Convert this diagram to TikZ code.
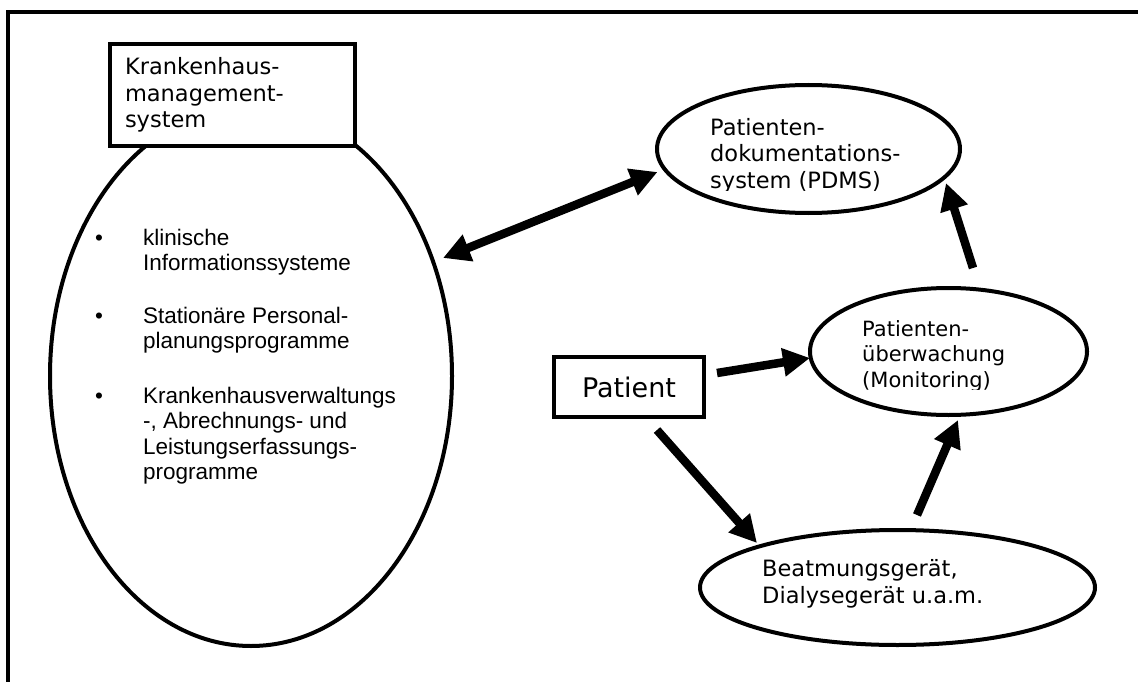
\documentclass[tikz,border=0pt]{standalone}
\usepackage{fontspec}
\setmainfont{DejaVu Sans}
\newfontfamily\arialf{Liberation Sans}
\usetikzlibrary{arrows.meta,shapes.geometric}
\begin{document}
\begin{tikzpicture}[x=1pt,y=-1pt,
  frameline/.style={line width=4pt},
  ell/.style={draw,ellipse,line width=4pt,inner sep=0pt,outer sep=0pt},
  box/.style={draw,rectangle,line width=4pt,fill=white,inner sep=0pt,outer sep=0pt},
  vtext/.style={font=\fontsize{22.5}{26.5}\selectfont,align=left,inner sep=0pt,anchor=base west},
  listitem/.style={font=\arialf\fontsize{22.5}{25.5}\selectfont,inner sep=0pt,anchor=base west},
  arr/.style={line width=8.5pt,-{Triangle[length=27pt,width=27pt]}},
  dbl/.style={line width=8.5pt,{Triangle[length=27pt,width=27pt]}-{Triangle[length=27pt,width=27pt]}},
]
\useasboundingbox (0,0) rectangle (1138,682);
% frame (left and top only)
\draw[frameline] (8,684) -- (8,12) -- (1140,12);

% hospital management system
\node[ell,minimum width=402pt,minimum height=540pt] (hms) at (251,376) {};
\node[box,minimum width=245pt,minimum height=102pt,text width=215pt,align=left,
      font=\fontsize{22.5}{26.5}\selectfont,yshift=-2pt] (kms) at (232.5,93)
      {Krankenhaus-\\management-\\system};

\node[listitem] (it1) at (95,245) {\begin{tabular}[t]{@{}l@{}l@{}}\makebox[48pt][l]{•}&klinische\\&Informationssysteme\end{tabular}};
\node[listitem] (it2) at (95,323) {\begin{tabular}[t]{@{}l@{}l@{}}\makebox[48pt][l]{•}&Stationäre Personal-\\&planungsprogramme\end{tabular}};
\node[listitem] (it3) at (95,403) {\begin{tabular}[t]{@{}l@{}l@{}}\makebox[48pt][l]{•}&Krankenhausverwaltungs\\&-, Abrechnungs- und\\&Leistungserfassungs-\\&programme\end{tabular}};

% PDMS
\node[ell,minimum width=303pt,minimum height=128pt] (pdms) at (808.5,149) {};
\begin{scope}
  \clip (650,90) rectangle (1000,190.5);
  \node[vtext] (pdmstxt) at (710,188) {Patienten-\\dokumentations-\\system (PDMS)};
\end{scope}

% Monitoring
\node[ell,minimum width=277pt,minimum height=127pt] (mon) at (948.5,351.5) {};
\begin{scope}
  \clip (820,300) rectangle (1080,389.5);
  \node[vtext,font=\fontsize{21}{25.5}\selectfont] (montxt) at (862,387) {Patienten-\\überwachung\\(Monitoring)};
\end{scope}

% Patient
\node[box,minimum width=150pt,minimum height=60pt,font=\fontsize{27}{32}\selectfont] (patient) at (629,387) {Patient};

% Devices
\node[ell,minimum width=395pt,minimum height=115pt] (dev) at (897.5,587.5) {};
\node[vtext] (devtxt) at (762,603) {Beatmungsgerät,\\Dialysegerät u.a.m.};

% arrows
\draw[dbl] ([shift={(192,-118)}]hms.center) -- ([shift={(-151,23)}]pdms.center);
\draw[arr] ([shift={(24.5,-83.5)}]mon.center) -- ([shift={(137.5,34)}]pdms.center);
\draw[arr] ([shift={(88,-14)}]patient.center) -- ([shift={(-138.5,6.5)}]mon.center);
\draw[arr] ([shift={(28,43)}]patient.center) -- ([shift={(-140.5,-44.5)}]dev.center);
\draw[arr] ([shift={(19.5,-72.5)}]dev.center) -- ([shift={(9.5,68.5)}]mon.center);
\end{tikzpicture}
\end{document}
